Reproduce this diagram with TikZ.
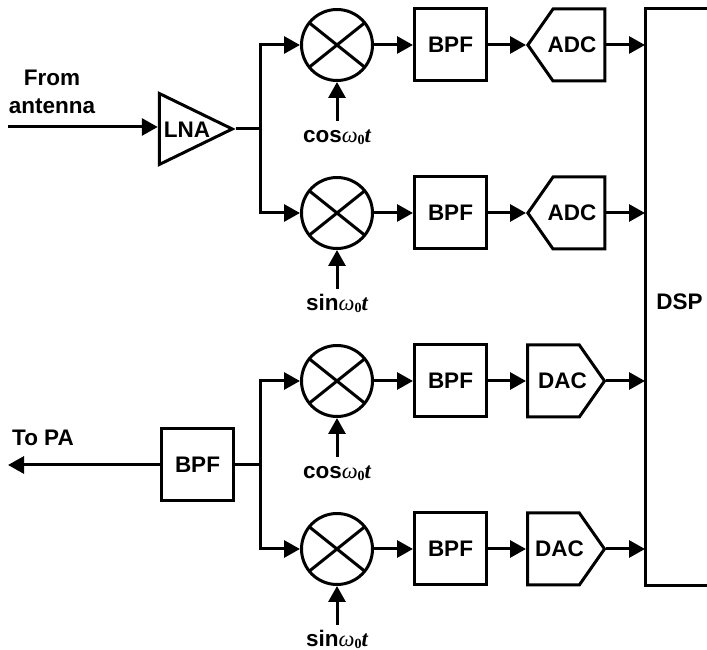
\documentclass[tikz,border=0pt]{standalone}
\usepackage{fontspec}
\setmainfont{Liberation Sans}
\newfontfamily\loserif{Liberation Serif}
\usetikzlibrary{positioning, shapes.geometric, shapes.symbols, arrows.meta}

% Signal d'oscillateur local
\newcommand{\losig}[1]{#1{\loserif\mdseries\itshape ω}\raisebox{-2.5pt}{\loserif\fontsize{14}{14}\selectfont 0}{\loserif\itshape t}}

\begin{document}
\begin{tikzpicture}[
    x=1pt, y=1pt,
    line width=3pt,
    txt/.style={font=\fontsize{22.5}{28}\selectfont\bfseries, inner sep=0pt, align=center},
    block/.style={rectangle, draw=black, txt, minimum size=72pt},
    mixer/.style={circle, draw=black, inner sep=0pt, minimum size=71pt,
      path picture={\draw[line width=3pt] (path picture bounding box.center) ++(-40,32) -- ++(80,-64);
        \draw[line width=3pt] (path picture bounding box.center) ++(40,32) -- ++(-80,-64);}},
    conv/.style={signal, draw=black, inner sep=0pt, minimum width=77pt, minimum height=72pt,
      signal pointer angle=110, signal from=nowhere},
    adc/.style={conv, signal to=west},
    dac/.style={conv, signal to=east},
    amp/.style={isosceles triangle, draw=black, isosceles triangle apex angle=52,
      isosceles triangle stretches, inner sep=0pt, minimum width=71pt, minimum height=73pt},
    lo/.style={txt, inner sep=6pt, text height=14pt, text depth=4pt},
    sigline/.style={-{Triangle[length=16pt,width=17pt]}},
    wire/.style={-}
    ]
    \useasboundingbox (0,0) rectangle (707,650);

    % Melangeurs
    \node[mixer] (mixA) at (337,605) {};
    \node[mixer, below=94pt of mixA] (mixB) {};
    \node[mixer, below=94pt of mixB] (mixC) {};
    \node[mixer, below=94pt of mixC] (mixD) {};

    % Filtres
    \node[block, right=39pt of mixA] (bpfA) {BPF};
    \node[block, right=39pt of mixB] (bpfB) {BPF};
    \node[block, right=39pt of mixC] (bpfC) {BPF};
    \node[block, right=39pt of mixD] (bpfD) {BPF};

    % Convertisseurs
    \node[adc, right=38pt of bpfA] (adcA) {};
    \node[adc, right=38pt of bpfB] (adcB) {};
    \node[dac, right=38pt of bpfC] (dacC) {};
    \node[dac, right=38pt of bpfD] (dacD) {};
    \node[txt] (adcAtxt) at ([xshift=-7pt]adcA.center) {ADC};
    \node[txt] (adcBtxt) at ([xshift=-7pt]adcB.center) {ADC};
    \node[txt] (dacCtxt) at ([xshift=9pt]dacC.center) {DAC};
    \node[txt] (dacDtxt) at ([xshift=6pt]dacD.center) {DAC};

    % DSP
    \node[minimum width=62pt, minimum height=577pt, inner sep=0pt, outer sep=0pt] (DSP) at (676,352.5) {};
    \draw (DSP.north east) -- (DSP.north west) -- (DSP.south west) -- (DSP.south east);
    \node[txt] (DSPtxt) at (679.5,348) {DSP};

    % Entree
    \node[amp] (LNA) at (181.5,521) {};
    \node[txt] (LNAtxt) at (187,520) {LNA};
    \coordinate (antenna) at (8,523);
    \node[txt] (fromtxt) at (52,558) {From\\antenna};
    \coordinate[right=25pt of LNA.apex] (splitRx);

    % Sortie
    \node[block] (bpfTx) at (197.5,185) {BPF};
    \coordinate (pa) at (8,185);
    \node[txt] (patxt) at (43,212) {To PA};
    \coordinate[right=25pt of bpfTx] (splitTx);

    % Oscillateurs
    \node[lo, below=39pt of mixA] (cosA) {\losig{cos}};
    \node[lo, below=39pt of mixB] (sinB) {\losig{sin}};
    \node[lo, below=39pt of mixC] (cosC) {\losig{cos}};
    \node[lo, below=39pt of mixD] (sinD) {\losig{sin}};
    \draw[sigline] (cosA.north) -- (mixA.south);
    \draw[sigline] (sinB.north) -- (mixB.south);
    \draw[sigline] (cosC.north) -- (mixC.south);
    \draw[sigline] (sinD.north) -- (mixD.south);

    % Liens reception
    \draw[sigline] (antenna) -- (antenna -| LNA.west);
    \draw[wire] (LNA.apex) -- (splitRx);
    \draw[sigline] (splitRx) |- (mixA.west);
    \draw[sigline] (splitRx) |- (mixB.west);
    \draw[sigline] (mixA) -- (bpfA);
    \draw[sigline] (mixB) -- (bpfB);
    \draw[sigline] (bpfA) -- (adcA.west);
    \draw[sigline] (bpfB) -- (adcB.west);
    \draw[sigline] (adcA.east) -- (adcA.east -| DSP.west);
    \draw[sigline] (adcB.east) -- (adcB.east -| DSP.west);

    % Liens emission
    \draw[sigline] (bpfTx) -- (pa);
    \draw[wire] (bpfTx) -- (splitTx);
    \draw[sigline] (splitTx) |- (mixC.west);
    \draw[sigline] (splitTx) |- (mixD.west);
    \draw[sigline] (mixC) -- (bpfC);
    \draw[sigline] (mixD) -- (bpfD);
    \draw[sigline] (bpfC) -- (dacC.west);
    \draw[sigline] (bpfD) -- (dacD.west);
    \draw[sigline] (dacC.east) -- (dacC.east -| DSP.west);
    \draw[sigline] (dacD.east) -- (dacD.east -| DSP.west);

  \end{tikzpicture}
\end{document}
